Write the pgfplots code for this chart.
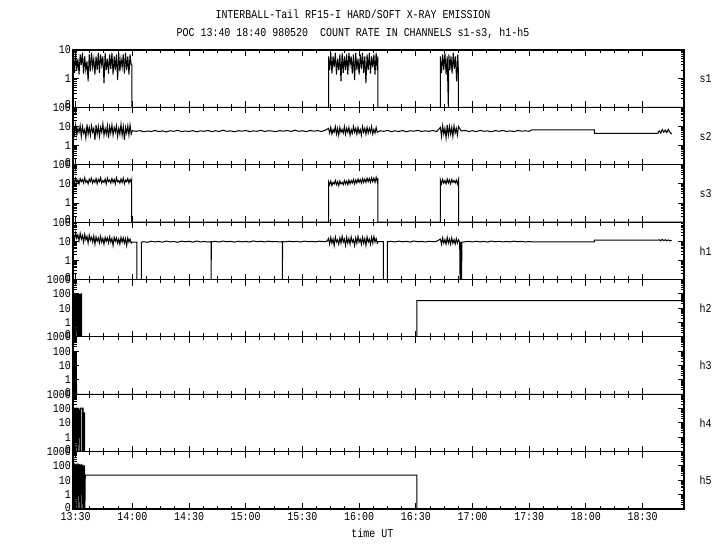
\documentclass[border=0pt]{standalone}
\usepackage{fontspec}
\setmainfont{Liberation Mono}[FakeStretch=0.83]
\usepackage{pgfplots}
\pgfplotsset{compat=1.18}
\pgfplotsset{/pgf/number format/assume math mode=true}
\newcommand\lbl{\fontsize{12}{13}\selectfont}
\pgfplotsset{
 panel/.style={scale only axis, width=611pt, height=57.375pt, xmin=-1.4, xmax=321.9,
   xtick={0,30,60,90,120,150,180,210,240,270,300}, minor x tick num=3, xticklabels={},
   axis line style={line width=1.1pt}, major tick length=6pt, minor tick length=3.5pt,
   tick style={line width=1pt, black}, tick align=inside, clip mode=individual,
   yticklabel style={font=\lbl, inner sep=2pt}, xticklabel style={font=\lbl},
   every axis plot post/.append style={line width=1pt, black, mark=none},
   anchor=south west},
 dec2/.style={ymin=0.1, ymax=10, ytick={0.1,1,10}, yticklabels={\raisebox{5pt}{0},1,10},
   minor ytick={0.2,0.3,0.4,0.5,0.6,0.7,0.8,0.9,2,3,4,5,6,7,8,9}},
 dec3/.style={ymin=0.1, ymax=100, ytick={0.1,1,10,100}, yticklabels={\raisebox{5pt}{0},1,10,100},
   minor ytick={0.2,0.3,0.4,0.5,0.6,0.7,0.8,0.9,2,3,4,5,6,7,8,9,20,30,40,50,60,70,80,90}},
 dec4/.style={ymin=0.1, ymax=1000, ytick={0.1,1,10,100,1000}, yticklabels={\raisebox{4pt}{0},1,10,100,1000},
   minor ytick={0.2,0.3,0.4,0.5,0.6,0.7,0.8,0.9,2,3,4,5,6,7,8,9,20,30,40,50,60,70,80,90,200,300,400,500,600,700,800,900}},
}
\newcommand\chan[1]{\node[anchor=west, font=\lbl, xshift=12pt] at (rel axis cs:1,0.5) {#1};}
\begin{document}
\begin{tikzpicture}
\useasboundingbox (0,0) rectangle (720pt,550pt);
\node[font=\lbl] at (353pt,536pt) {INTERBALL-Tail RF15-I HARD/SOFT X-RAY EMISSION};
\node[font=\lbl] at (353pt,517pt) {POC 13:40 18:40 980520\ \ COUNT RATE IN CHANNELS s1-s3, h1-h5};

% s1
\begin{axis}[ymode=log, panel, dec2, at={(73pt,442.625pt)}]
\addplot table {
-1.3 6
-1.2 6
-0.6 1.6
0 8
0.6 2
1.2 5
1.8 1.4
2.4 7
3 3
3.6 8
4.2 1.5
4.8 6
5.4 2
6 4
6.6 0.8
7.2 7
7.8 1.8
8.4 8
9 2.5
9.6 5
10.2 1.4
10.8 6
11.4 2
12 8
12.6 1.6
13.2 7
13.8 3
14.4 6
15 0.7
15.6 8
16.2 2
16.8 5
17.4 1.5
18 7
18.6 2.2
19.2 8
19.8 1.4
20.4 6
21 2
21.6 7
22.2 0.9
22.8 8
23.4 1.8
24 5
24.6 2.5
25.2 7
25.8 1.5
26.4 8
27 2
27.6 6
28.2 1.4
28.8 7
29.4 3
29.7 3
29.7 0.1
133.8 0.1
133.8 6
134.4 2
135 8
135.6 1.5
136.2 6
136.8 2.5
137.4 8
138 1.4
138.6 5
139.2 2
139.8 7
140.4 0.8
141 8
141.6 1.6
142.2 6
142.8 2
143.4 7
144 1.4
144.6 8
145.2 3
145.8 6
146.4 1.5
147 7
147.6 0.9
148.2 8
148.8 2
149.4 5
150 1.4
150.6 7
151.2 2.2
151.8 8
152.4 1.6
153 6
153.6 0.7
154.2 7
154.8 2
155.4 8
156 1.5
156.6 6
157.2 2.5
157.8 7
158.4 1.4
159 8
159.6 2
159.9 6
159.9 0.1
193 0.1
193 6
193.6 1.6
194.2 7
194.8 2
195.4 8
196 1.4
196.6 6
197.2 0.1
197.5 7
198 2
198.6 6
199.2 1.5
199.8 8
200.4 2.2
201 6
201.6 0.8
202.2 7
202.5 2
202.5 0.1
321.9 0.1
};
\chan{s1}
\end{axis}

% s2
\begin{axis}[ymode=log, panel, dec3, at={(73pt,385.25pt)}]
\addplot table {
-1.3 9
-1.2 9
-0.6 4
0 12
0.6 3.5
1.2 8
1.8 5
2.4 11
3 3
3.6 10
4.2 4.5
4.8 7
5.4 2.5
6 13
6.6 4
7.2 9
7.8 3.5
8.4 11
9 5
9.6 8
10.2 2
10.8 12
11.4 4
12 10
12.6 3
13.2 9
13.8 5
14.4 14
15 3.5
15.6 8
16.2 4
16.8 11
17.4 2.5
18 10
18.6 4.5
19.2 12
19.8 3.5
20.4 9
21 5
21.6 11
22.2 3
22.8 8
23.4 4
24 13
24.6 3.5
25.2 10
25.8 2
26.4 9
27 4.5
27.6 11
28.2 3.5
28.8 12
29.4 4
30 6
32 5.6
34 6.1
36 5.3
38 5.8
40 5.5
42 6.2
44 5.4
46 5.9
48 5.2
50 6
52 5.6
54 6.3
56 5.4
58 5.8
60 5.5
62 6.1
64 5.3
66 5.9
68 5.6
70 6.2
72 5.4
74 6
76 5.5
78 6.4
80 5.6
82 5.9
84 5.3
86 6
88 5.7
90 6.2
92 5.4
94 5.9
96 5.6
98 6.3
100 5.5
102 6
104 5.8
106 5.4
108 6.1
110 5.7
112 6.2
114 5.5
116 6.4
118 5.6
120 6
122 5.4
124 6.2
126 5.7
128 6.1
130 5.5
132 6.3
133.8 8
134.4 4.5
135 9
135.6 4
136.2 7
136.8 5
137.4 10
138 4
138.6 8
139.2 3.5
139.8 9
140.4 5
141 7
141.6 4.5
142.2 10
142.8 4
143.4 8
144 5
144.6 9
145.2 3.5
145.8 7
146.4 4.5
147 10
147.6 5
148.2 8
148.8 4
149.4 9
150 4.5
150.6 7
151.2 3.5
151.8 10
152.4 5
153 8
153.6 4
154.2 9
154.8 4.5
155.4 8
156 5
156.6 10
157.2 4
157.8 7
158.4 4.5
159 9
159.6 5
161 6
163 5.6
165 6.2
167 5.4
169 5.9
171 5.5
173 6.1
175 5.3
177 6
179 5.7
181 6.3
183 5.5
185 5.9
187 5.6
189 6.2
191 5.4
193 9
193.6 3
194.2 11
194.8 4
195.4 8
196 2.5
196.6 12
197.2 3.5
197.8 10
198.4 4
199 9
199.6 3
200.2 11
200.8 4.5
201.4 8
202 3.5
202.6 10
204 5.8
206 6.2
208 5.5
210 6
212 5.4
214 6.3
216 5.6
218 5.9
220 5.3
222 6.1
224 5.6
226 6.2
228 5.5
230 5.9
232 5.4
234 6.2
236 5.7
238 6
240 5.6
241.3 6.7
274.5 6.7
274.5 4.4
308 4.4
308.8 6
309.6 4.5
310.4 7
311.2 5
312 6.5
312.8 4.8
313.6 7
314.4 5
315.4 4
};
\chan{s2}
\end{axis}

% s3
\begin{axis}[ymode=log, panel, dec3, at={(73pt,327.875pt)}]
\addplot table {
-1.3 18
-1.2 18
-0.6 11
0 20
0.6 12
1.2 16
1.8 10
2.4 19
3 13
3.6 17
4.2 11
4.8 21
5.4 12
6 15
6.6 10
7.2 18
7.8 13
8.4 20
9 11
9.6 16
10.2 12
10.8 19
11.4 10
12 17
12.6 13
13.2 21
13.8 11
14.4 15
15 12
15.6 18
16.2 10
16.8 20
17.4 13
18 16
18.6 11
19.2 19
19.8 12
20.4 17
21 10
21.6 21
22.2 13
22.8 15
23.4 11
24 18
24.6 12
25.2 20
25.8 10
26.4 16
27 13
27.6 19
28.2 11
28.8 17
29.4 12
29.6 15
29.6 0.1
133.8 0.1
133.8 13
134.4 9
135 14
135.6 8
136.2 12
136.8 10
137.4 15
138 9
138.6 13
139.2 8
139.8 14
140.4 10
141 12
141.6 9
142.2 15
142.8 10
143.4 14
144 9
144.6 16
145.2 10
145.8 15
146.4 11
147 17
147.6 10
148.2 16
148.8 11
149.4 18
150 12
150.6 17
151.2 11
151.8 19
152.4 12
153 18
153.6 12
154.2 20
154.8 13
155.4 19
156 12
156.6 21
157.2 13
157.8 20
158.4 12
159 22
159.6 13
159.9 20
159.9 0.1
193 0.1
193 16
193.6 10
194.2 17
194.8 11
195.4 15
196 10
196.6 18
197.2 11
197.8 16
198.4 10
199 17
199.6 12
200.2 15
200.8 11
201.4 16
202 10
202.6 17
202.7 0.1
321.9 0.1
};
\chan{s3}
\end{axis}

% h1
\begin{axis}[ymode=log, panel, dec3, at={(73pt,270.5pt)}]
\addplot table {
-1.3 25
-1.2 25
-0.6 12
0 28
0.6 14
1.2 22
1.8 11
2.4 26
3 13
3.6 20
4.2 9
4.8 23
5.4 12
6 18
6.6 8
7.2 21
7.8 11
8.4 16
9 9
9.6 19
10.2 7
10.8 17
11.4 10
12 15
12.6 8
13.2 18
13.8 9
14.4 14
15 7
15.6 16
16.2 10
16.8 15
17.4 8
18 17
18.6 9
19.2 14
19.8 6
20.4 16
21 10
21.6 15
22.2 8
22.8 13
23.4 7
24 16
24.6 9
25.2 15
25.8 8
26.4 14
27 6
27.6 15
28.2 9
28.8 13
29.4 8
30 9
32.4 9
32.4 0.1
34.8 0.1
34.8 9
36 9.5
38 8.8
40 10
42 9.2
44 9.8
46 8.9
48 10.2
50 9.3
52 9.7
54 8.8
56 10.1
58 9.4
60 9.9
62 9
64 10.3
66 9.2
68 9.7
70 9.1
71.7 9.5
71.7 0.1
71.8 9.5
74 9.8
76 9.1
78 10.2
80 9.4
82 9.9
84 9
86 10
88 9.3
90 9.8
92 9.1
94 10.4
96 9.5
98 9.9
100 9.2
102 10.1
104 9.4
106 9.7
108 9.2
109.4 9.6
109.4 0.1
109.5 9.6
111 9.3
113 10
115 9.4
117 9.9
119 9.1
121 10.2
123 9.5
125 9.8
127 9.3
129 10.1
131 9.6
133 9.9
133.8 14
134.4 7
135 16
135.6 8
136.2 13
136.8 6
137.4 17
138 9
138.6 12
139.2 7
139.8 15
140.4 8
141 18
141.6 9
142.2 13
142.8 6
143.4 16
144 8
144.6 14
145.2 7
145.8 17
146.4 9
147 12
147.6 6
148.2 15
148.8 8
149.4 18
150 9
150.6 13
151.2 7
151.8 16
152.4 8
153 14
153.6 6
154.2 17
154.8 9
155.4 13
156 7
156.6 16
157.2 8
157.8 18
158.4 9
159 14
159.6 8
160 9.5
162.8 9.5
162.8 0.1
165 0.1
165 9.5
167 9.8
169 9.2
171 10.1
173 9.4
175 9.9
177 9.1
179 10.3
181 9.5
183 9.8
185 9.2
187 10
189 9.4
191 9.9
193 13
193.6 7
194.2 15
194.8 8
195.4 12
196 7
196.6 16
197.2 8
197.8 13
198.4 7
199 15
199.6 8
200.2 12
200.8 7
201.4 14
202 8
202.6 12
203.2 9
203.4 0.1
203.6 9
203.8 0.1
204 9
204.2 0.1
204.4 9
206 9.4
208 9.9
210 9.2
212 10
214 9.3
216 9.8
218 9.1
220 10.2
222 9.4
224 9.9
226 9.2
228 9.7
230 9.3
232 10.1
234 9.4
236 9.8
238 9.2
240 9.7
241.3 9.2
274.5 9.2
274.5 11.3
308 11.3
308.8 12
309.6 10.5
310.4 12.5
311.2 10.8
312 12
312.8 10.6
313.6 11.8
314.4 10.5
315.4 11
};
\chan{h1}
\end{axis}

% h2
\begin{axis}[ymode=log, panel, dec4, at={(73pt,213.125pt)}]
\addplot table {
-1.3 0.1
-1.3 90
-1.1 5
-0.9 100
-0.7 0.1
-0.5 80
-0.3 2
-0.1 100
0.1 0.1
0.3 60
0.5 0.3
0.7 100
0.9 0.1
1.2 0.1
1.2 100
1.6 100
1.6 0.1
2.0 0.1
2.2 100
2.4 0.1
2.8 0.1
2.9 100
3.1 100
3.2 0.1
180.5 0.1
180.5 34
321.9 34
};
\chan{h2}
\end{axis}

% h3
\begin{axis}[ymode=log, panel, dec4, at={(73pt,155.75pt)}]
\addplot table {
-1.3 0.1
-1.3 100
-1.1 0.2
-0.9 100
-0.7 0.1
-0.5 90
-0.3 0.1
-0.1 100
0.1 0.1
0.3 70
0.5 0.1
0.8 0.1
321.9 0.1
};
\chan{h3}
\end{axis}

% h4
\begin{axis}[ymode=log, panel, dec4, at={(73pt,98.375pt)}]
\addplot table {
-1.3 0.1
-1.3 110
-1.1 3
-0.9 120
-0.7 0.1
-0.5 100
-0.3 5
-0.1 110
0.1 0.1
0.3 90
0.5 1
0.7 120
0.9 0.1
1.1 100
1.3 0.3
1.5 110
1.7 0.1
1.9 80
2.1 2
2.3 100
2.5 0.1
2.5 110
3.4 110
3.4 0.1
3.6 0.1
3.6 110
4.0 110
4.0 0.1
4.4 0.1
4.4 50
4.8 50
4.8 0.1
321.9 0.1
};
\chan{h4}
\end{axis}

% h5
\begin{axis}[ymode=log, panel, dec4, at={(73pt,41pt)},
  xticklabels={13:30,14:00,14:30,15:00,15:30,16:00,16:30,17:00,17:30,18:00,18:30}]
\addplot table {
-1.3 0.1
-1.3 150
-1.1 2
-0.9 130
-0.7 0.1
-0.5 150
-0.3 1
-0.1 120
0.1 0.1
0.3 140
0.5 0.5
0.7 130
0.9 0.1
1.1 150
1.3 2
1.5 120
1.7 0.1
1.9 140
2.1 0.3
2.3 130
2.5 0.1
2.7 120
2.9 1
3.1 140
3.3 0.1
3.5 110
3.7 0.2
3.9 120
4.1 0.1
4.3 100
4.5 0.1
4.7 110
4.9 0.1
5.1 23
180.5 23
180.5 0.1
321.9 0.1
};
\chan{h5}
\node[font=\lbl] at (rel axis cs:0.49,0) [yshift=-24pt] {time UT};
\end{axis}
\end{tikzpicture}
\end{document}
